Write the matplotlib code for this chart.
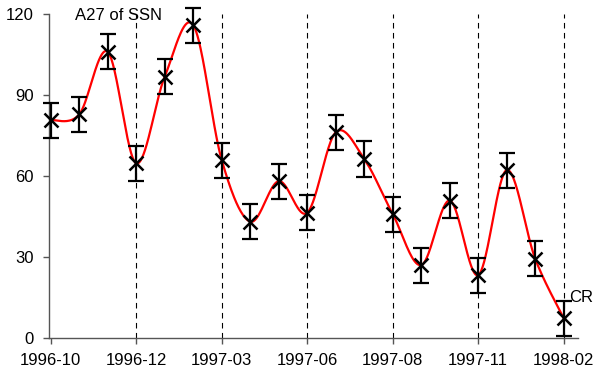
import numpy as np
import matplotlib
matplotlib.use("Agg")
import matplotlib.pyplot as plt

# Monthly A27 sunspot-number values with uncertainty
ssn = [80.7, 82.8, 106.0, 64.7, 96.8, 115.9, 65.9, 43.1, 58.1, 46.4,
       76.2, 66.3, 45.9, 27.0, 50.9, 23.3, 62.2, 29.3, 7.3]
ssn_err = [6.5] * len(ssn)
tick_labels = ["1996-10", "1996-12", "1997-03", "1997-06",
               "1997-08", "1997-11", "1998-02"]
tick_every = 3

plt.rcParams["font.family"] = ["Liberation Sans", "DejaVu Sans"]

x = np.arange(len(ssn), dtype=float)
y = np.array(ssn, dtype=float)


def smooth_curve(xs, ys, n=40):
    """Piecewise cubic Bezier through the points (spreadsheet-style smoothing)."""
    px = np.concatenate([[xs[0]], xs, [xs[-1]]])
    py = np.concatenate([[ys[0]], ys, [ys[-1]]])
    out_x, out_y = [], []
    t = np.linspace(0, 1, n)
    for i in range(1, len(px) - 2):
        p0 = np.array([px[i], py[i]])
        p3 = np.array([px[i + 1], py[i + 1]])
        c1 = p0 + (np.array([px[i + 1], py[i + 1]]) - np.array([px[i - 1], py[i - 1]])) / 6
        c2 = p3 - (np.array([px[i + 2], py[i + 2]]) - np.array([px[i], py[i]])) / 6
        b = ((1 - t) ** 3)[:, None] * p0 + (3 * (1 - t) ** 2 * t)[:, None] * c1 \
            + (3 * (1 - t) * t ** 2)[:, None] * c2 + (t ** 3)[:, None] * p3
        out_x.extend(b[:, 0])
        out_y.extend(b[:, 1])
    return np.array(out_x), np.array(out_y)


W, H = 601, 377
fig = plt.figure(figsize=(W / 100, H / 100), dpi=100)
ax = fig.add_axes([49 / W, 1 - 338 / H, (578 - 49) / W, (338 - 14) / H])

ticks = np.arange(0, len(ssn), tick_every)
for xv in ticks[1:]:
    ax.plot([xv, xv], [0, 120], color="black", lw=0.8, dashes=(5, 4), zorder=1)

sx, sy = smooth_curve(x, y)
ax.plot(sx, sy, color="#ff0000", lw=1.6, zorder=2)

eb = ax.errorbar(x, y, yerr=ssn_err, fmt="none", ecolor="black", elinewidth=1.6,
                 capsize=6, capthick=1.6, zorder=3)
for art in eb.lines[1] + eb.lines[2]:
    art.set_clip_on(False)
ax.plot(x, y, linestyle="none", marker="x", markersize=10, mew=1.8,
        color="black", zorder=4, clip_on=False)

ax.set_xlim(-0.06, 18.5)
ax.set_ylim(0, 120)
ax.set_yticks([0, 30, 60, 90, 120])
ax.set_xticks(ticks)
ax.set_xticklabels(tick_labels)

for s in ["top", "right"]:
    ax.spines[s].set_visible(False)
for s in ["left", "bottom"]:
    ax.spines[s].set_color("#555555")
    ax.spines[s].set_linewidth(1.0)
ax.tick_params(axis="both", direction="out", length=4, width=1.0,
               color="#555555", labelsize=12, labelcolor="black")
ax.tick_params(axis="y", pad=7)
ax.tick_params(axis="x", pad=7)

fig.text(75 / W, 1 - 15 / H, "A27 of SSN", fontsize=12, va="center", ha="left")
fig.text(569 / W, 1 - 297 / H, "CR", fontsize=12, va="center", ha="left")

fig.savefig("out.png", dpi=100)
